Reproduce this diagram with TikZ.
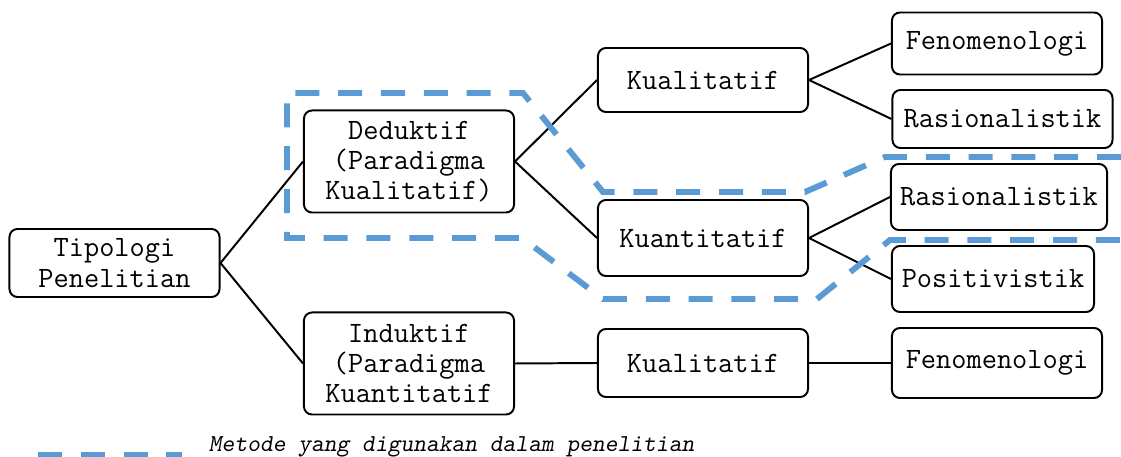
\documentclass[tikz,border=0pt]{standalone}
\usepackage{xcolor}
\usepackage{tikz}
\usetikzlibrary{positioning,calc}
\definecolor{MetodeBlue}{RGB}{91,155,213}

\begin{document}
\begin{tikzpicture}[
        x=0.025cm, y=-0.025cm,
        % Style cho các kotak
        kotak/.style={
            draw=black,
            line width=1.4pt,
            rounded corners=0.2cm,
            fill=white,
            font=\ttfamily\fontsize{21}{21.5}\selectfont,
            align=center,
            minimum width=5.25cm,
            inner xsep=3pt,
            inner ysep=2pt
        },
        % Style cho garis penghubung
        garis/.style={
            draw=black,
            line width=1.4pt
        },
        % Style cho garis putus-putus biru
        metode/.style={
            draw=MetodeBlue,
            line width=4.2pt,
            dash pattern=on 0.6cm off 0.47cm
        }
    ]

        \useasboundingbox (0,0) rectangle (1121,457);

        % --- 1. KOTAK ---
        % Level 1
        \node[kotak, minimum height=1.7cm] (tipologi) at (114.5,263) {Tipologi\\Penelitian};

        % Level 2
        \node[kotak, minimum height=2.55cm] (deduktif) at (409,161.5) {Deduktif\\(Paradigma\\Kualitatif)};
        \node[kotak, minimum height=2.55cm] (induktif) at (409,363.5) {Induktif\\(Paradigma\\Kuantitatif};

        % Level 3
        \node[kotak, minimum height=1.6cm] (kual1) at (703,80) {Kualitatif};
        \node[kotak, minimum height=1.9cm] (kuan) at (703,238) {Kuantitatif};
        \node[kotak, minimum height=1.7cm] (kual2) at (703,363) {Kualitatif};

        % Level 4
        \node[kotak, minimum height=1.55cm] (feno1) at (997,43.5) {Fenomenologi};
        \node[kotak, minimum height=1.45cm, minimum width=5.5cm] (rasio1) at (1002.5,119) {Rasionalistik};
        \node[kotak, minimum height=1.65cm, minimum width=5.4cm] (rasio2) at (999,197) {Rasionalistik};
        \node[kotak, minimum height=1.65cm, minimum width=5.05cm] (posit) at (993,279) {Positivistik};
        \node[kotak, minimum height=1.75cm] (feno2) at (997,363) {Fenomenologi};

        % --- 2. GARIS ---
        \draw[garis] (tipologi.east) -- (deduktif.west);
        \draw[garis] (tipologi.east) -- (induktif.west);

        \draw[garis] (deduktif.east) -- (kual1.west);
        \draw[garis] (deduktif.east) -- (kuan.west);
        \draw[garis] (induktif.east) -- (kual2.west);

        \draw[garis] (kual1.east) -- (feno1.west);
        \draw[garis] (kual1.east) -- (rasio1.west);
        \draw[garis] (kuan.east) -- (rasio2.west);
        \draw[garis] (kuan.east) -- (posit.west);
        \draw[garis] (kual2.east) -- (feno2.west);

        % --- 3. GARIS METODE (BIRU PUTUS-PUTUS) ---
        \draw[metode] (1121,157) -- (885,157) -- (805,192) -- (603,192) -- (523,93)
            -- (287,93) -- (287,238) -- (522,238) -- (603,299) -- (817,299)
            -- (890,240) -- (1121,240);

        % --- 4. KETERANGAN ---
        \coordinate (leg1) at (38,455);
        \coordinate (leg2) at (182,455);
        \draw[metode] (leg1) -- (leg2);
        \node[font=\ttfamily\slshape\fontsize{17.3}{20}\selectfont, anchor=west] (ket) at (204,447) {Metode yang digunakan dalam penelitian};

    \end{tikzpicture}
\end{document}
